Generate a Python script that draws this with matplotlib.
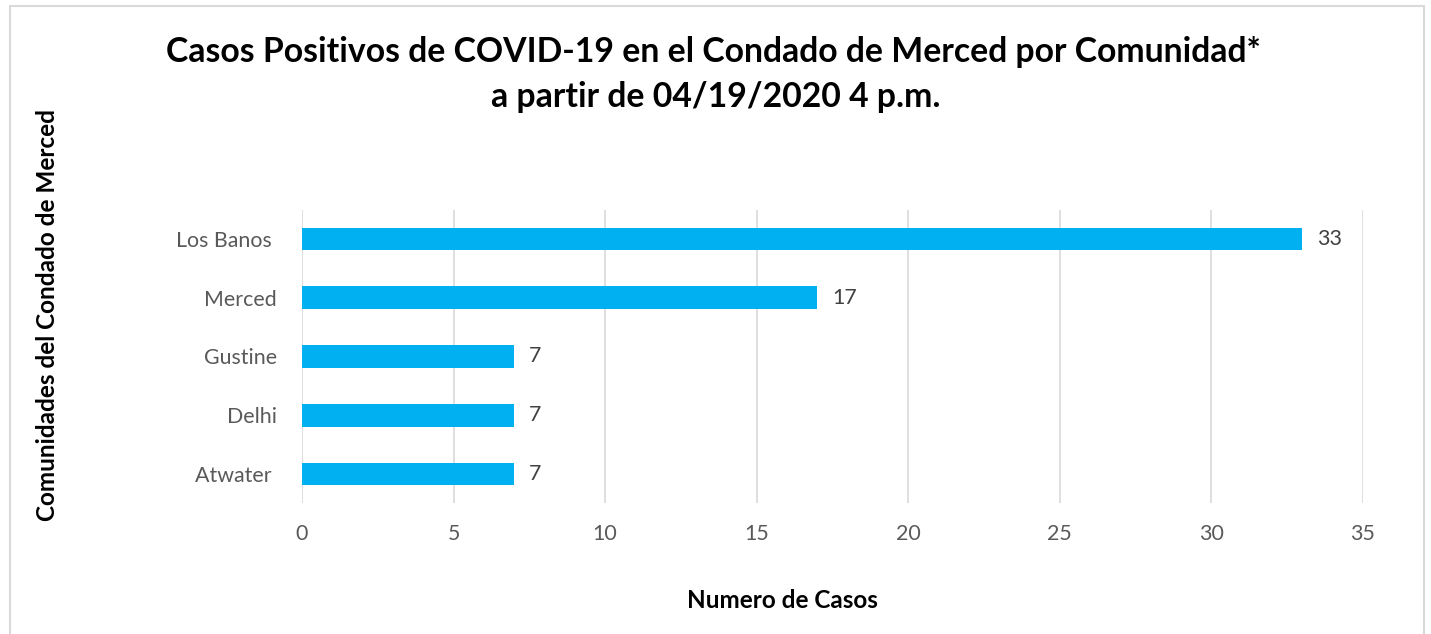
import matplotlib.pyplot as plt
from matplotlib.patches import Rectangle

communities = ['Atwater ', 'Delhi', 'Gustine', 'Merced', 'Los Banos ']
cases = [7, 7, 7, 17, 33]
xticks = [0, 5, 10, 15, 20, 25, 30, 35]

plt.rcParams['font.family'] = ['Lato', 'DejaVu Sans']

fig = plt.figure(figsize=(14.31, 6.34), dpi=100)
ax = fig.add_axes([302 / 1431, 1 - 503.4 / 634, (1363 - 302) / 1431, (503.4 - 209.6) / 634])

# outer chart border
fig.patches.append(Rectangle((10 / 1431, -0.05), (1424 - 10) / 1431, 1 - 6 / 634 + 0.05,
                             transform=fig.transFigure, fill=False,
                             edgecolor='#D9D9D9', linewidth=1.5))

bars = ax.barh(range(len(communities)), cases, height=0.39, color='#00B0F0', zorder=3)
for i, v in enumerate(cases):
    ax.text(v + 0.5, i, str(v), va='center', ha='left', fontsize=15.4, color='#404040')

ax.set_xlim(0, 35)
ax.set_ylim(-0.5, len(communities) - 0.5)
ax.set_xticks(xticks)
ax.set_yticks(range(len(communities)))
ax.set_yticklabels(communities)
ax.grid(axis='x', color='#D9D9D9', linewidth=1.2, zorder=0)
for s in ax.spines.values():
    s.set_visible(False)
ax.tick_params(length=0, labelsize=15.4, colors='#595959')
ax.tick_params(axis='x', pad=15)
ax.tick_params(axis='y', pad=18)

fig.text(713 / 1431, 1 - 52 / 634, 'Casos Positivos de COVID-19 en el Condado de Merced por Comunidad*',
         ha='center', va='center', fontsize=24.3, fontweight='bold', color='black')
fig.text(716 / 1431, 1 - 97 / 634, 'a partir de 04/19/2020 4 p.m.',
         ha='center', va='center', fontsize=24.3, fontweight='bold', color='black')
fig.text(48 / 1431, 1 - 315 / 634, 'Comunidades del Condado de Merced', rotation=90,
         ha='center', va='center', fontsize=17.5, fontweight='bold', color='black')
fig.text(782 / 1431, 1 - 600 / 634, 'Numero de Casos',
         ha='center', va='center', fontsize=17.5, fontweight='bold', color='black')

fig.savefig('out.png', dpi=100)
